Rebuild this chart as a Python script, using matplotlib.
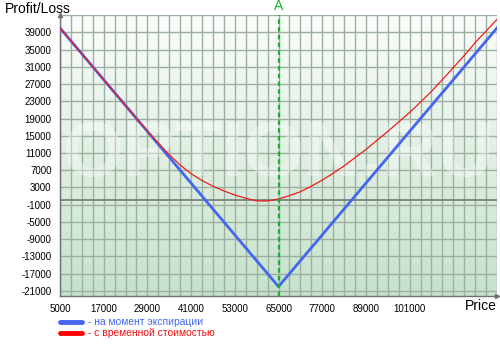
import matplotlib.pyplot as plt
import numpy as np
from matplotlib.colors import LinearSegmentedColormap

# price grid and P/L values
expiry_price = [5000, 65000, 125000]
expiry_pl = [40000, -20000, 40000]

time_price = [5000, 11000, 17000, 23000, 29000, 32000, 35000, 38000, 41000,
              44000, 47000, 50000, 53000, 56000, 59000, 62000, 65000, 68000,
              71000, 74000, 77000, 80000, 83000, 86000, 89000, 92000, 95000,
              98000, 101000, 104000, 107000, 110000, 113000, 116000, 119000,
              122000, 125000]
time_pl = [40000, 34000, 28000, 22000, 16100, 13300, 10600, 8200, 6200,
           4600, 3300, 2200, 1250, 500, -100, -150, 350, 1100,
           2000, 3300, 4700, 6300, 8000, 9900, 11800, 13900, 16000,
           18200, 20400, 22800, 25300, 28000, 30800, 33600, 36600,
           39300, 42000]

x_ticks = [5000, 17000, 29000, 41000, 53000, 65000, 77000, 89000, 101000]
y_ticks = [39000, 35000, 31000, 27000, 23000, 19000, 15000, 11000, 7000, 3000,
           -1000, -5000, -9000, -13000, -17000, -21000]
strike_a = 65000
legend_labels = ["- на момент экспирации", "- с временной стоимостью"]

plt.rcParams['font.family'] = ['Liberation Sans', 'DejaVu Sans']

fig = plt.figure(figsize=(5, 3.5), dpi=100)
ax = fig.add_axes([0.12, 0.154, 0.874, 0.803])
xmin, xmax = 5000, 125000
ymin, ymax = -22200, 43000
ax.set_xlim(xmin, xmax)
ax.set_ylim(ymin, ymax)

# gradient background
grad = np.linspace(0, 1, 256).reshape(-1, 1)
cmap = LinearSegmentedColormap.from_list("bg", ["#c6e2cb", "#fbfdfb"])
ax.imshow(grad, cmap=cmap, aspect='auto', origin='lower',
          extent=[xmin, xmax, ymin, ymax], zorder=0)

# grid
for gx in np.arange(5000, 125001, 3000):
    ax.axvline(gx, color='#9bb0a0', lw=1.0, zorder=1)
for gy in np.arange(-21000, 43001, 4000):
    ax.axhline(gy, color='#9bb0a0', lw=1.0, zorder=1)
ax.axhline(0, color='#6f7a72', lw=1.2, zorder=2)

# watermark
ax.text(0.5, 0.5, "OPTION.RU", transform=ax.transAxes, ha='center', va='center',
        fontsize=56, fontweight='bold', color='white', alpha=0.35, zorder=2)

ax.plot(expiry_price, expiry_pl, color='#4466f0', lw=2.0, zorder=4)
ax.plot(time_price, time_pl, color='#f01c1c', lw=0.9, zorder=5)

ax.axvline(strike_a, color='#14b030', lw=1.6, ls=(0, (2, 1.5)), zorder=6)
fig.text(0.12 + 0.874 * (strike_a - xmin) / (xmax - xmin), 0.984, "A",
         color='#14b030', ha='center', va='center', fontsize=10)

ax.set_xticks(x_ticks)
ax.set_xticklabels([str(v) for v in x_ticks], fontsize=7)
ax.set_yticks(y_ticks)
ax.set_yticklabels([str(v) for v in y_ticks], fontsize=7)
ax.tick_params(length=0, pad=6)

for s in ['top', 'right']:
    ax.spines[s].set_visible(False)
for s in ['left', 'bottom']:
    ax.spines[s].set_color('#707070')
    ax.spines[s].set_linewidth(1.0)

# small axis arrowheads
ax.plot(0, 1, marker='^', ms=3, color='#707070', transform=ax.transAxes,
        clip_on=False, zorder=7)
ax.plot(1, 0, marker='>', ms=3, color='#707070', transform=ax.transAxes,
        clip_on=False, zorder=7)

fig.text(0.01, 0.975, "Profit/Loss", fontsize=10, ha='left', va='center')
fig.text(0.994, 0.105, "Price", fontsize=10, ha='right', va='bottom')

# legend
fig.lines.append(plt.Line2D([0.12, 0.164], [0.08, 0.08], color='#4466f0', lw=3.5,
                            solid_capstyle='round', transform=fig.transFigure))
fig.lines.append(plt.Line2D([0.12, 0.164], [0.048, 0.048], color='#ff0000', lw=3.5,
                            solid_capstyle='round', transform=fig.transFigure))
fig.text(0.176, 0.08, legend_labels[0], color='#4466f0', fontsize=7.4, va='center')
fig.text(0.176, 0.048, legend_labels[1], color='#ee1111', fontsize=7.4, va='center')

fig.savefig("out.png", dpi=100)
